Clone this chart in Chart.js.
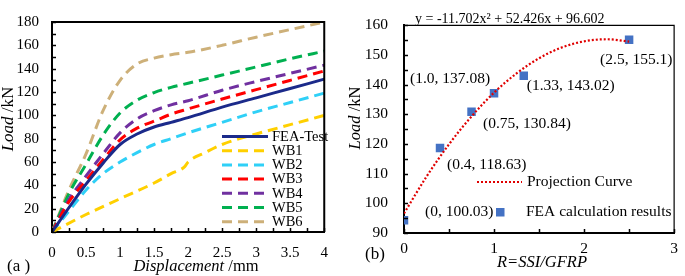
<!DOCTYPE html>
<html>
<head>
<meta charset="utf-8">
<script src="https://cdn.jsdelivr.net/npm/chart.js@4"></script>
<style>
  html, body { margin: 0; padding: 0; background: #fff; }
  #wrap { position: relative; width: 685px; height: 276px; }
  #c1 { position: absolute; left: 0; top: 0; }
  #c2 { position: absolute; left: 340px; top: 0; }
</style>
</head>
<body>
<div id="wrap">
  <canvas id="c1" width="340" height="276"></canvas>
  <canvas id="c2" width="345" height="276"></canvas>
</div>
<script>
// ---- panel (a): load vs displacement ----
var dispX  = [0, 0.25, 0.5, 0.75, 1, 1.25, 1.5, 1.75, 2, 2.5, 3, 3.5, 4];
var feaTest = [0, 21, 41, 59, 75, 84, 90, 94, 98, 107, 115, 123, 131];
var wb2 = [0, 18, 36, 50, 60, 68, 75, 80, 85, 94, 103, 111, 119];
var wb3 = [0, 26, 44, 62, 79, 89, 95, 101, 105.5, 114, 122, 130, 138];
var wb4 = [0, 28, 48, 67, 85, 97, 104, 109, 112.5, 121.5, 129, 136, 143];
var wb5 = [0, 33, 58, 83, 102, 113, 119.5, 124, 127.5, 134.5, 141.5, 148.5, 155];
var wb6 = [0, 36, 67, 104, 130, 144, 149, 152, 154, 160, 167, 173.5, 180];
// WB1 has its own x points (kink near 2 mm)
var wb1X = [0, 0.5, 1, 1.5, 1.75, 1.95, 2.0, 2.25, 2.5, 3, 3.5, 4];
var wb1  = [0, 15, 28.5, 42, 50, 56, 60, 68, 75, 84, 92, 100];

var seriesNames = ['FEA-Test', 'WB1', 'WB2', 'WB3', 'WB4', 'WB5', 'WB6'];

// ---- panel (b): load vs R ----
var rVals    = [0, 0.4, 0.75, 1.0, 1.33, 2.5];
var rLoads   = [94.3, 118.63, 130.84, 137.08, 143.02, 155.1];
var rLabels  = ['(0, 100.03)', '(0.4, 118.63)', '(0.75, 130.84)', '(1.0, 137.08)', '(1.33, 143.02)', '(2.5, 155.1)'];
var curveX   = [0, 0.25, 0.5, 0.75, 1, 1.25, 1.5, 1.75, 2, 2.25, 2.5];
var curveY   = [96.6, 109, 119.9, 129.3, 137.3, 143.8, 148.9, 152.5, 154.6, 155.3, 154.5];
var equation = 'y = -11.702x\u00B2 + 52.426x + 96.602';

var SERIF = "'Liberation Serif', 'Times New Roman', serif";

function pts(xs, ys) {
  return xs.map(function (x, i) { return { x: x, y: ys[i] }; });
}
function num(v) { return String(Math.round(v * 100) / 100); }

// small helper for mixed italic/normal text
function mixedText(ctx, parts, size) {
  var total = 0;
  parts.forEach(function (p) {
    ctx.font = (p[1] ? 'italic ' : '') + size + 'px ' + SERIF;
    total += ctx.measureText(p[0]).width;
  });
  return total;
}
function drawMixed(ctx, parts, size, cx, cy, rotate) {
  ctx.save();
  ctx.translate(cx, cy);
  if (rotate) ctx.rotate(-Math.PI / 2);
  var w = mixedText(ctx, parts, size);
  var x = -w / 2;
  ctx.fillStyle = '#000';
  ctx.textBaseline = 'middle';
  ctx.textAlign = 'left';
  parts.forEach(function (p) {
    ctx.font = (p[1] ? 'italic ' : '') + size + 'px ' + SERIF;
    ctx.fillText(p[0], x, 0);
    x += ctx.measureText(p[0]).width;
  });
  ctx.restore();
}

var colors = ['#1b2a8a', '#ffd000', '#2fd0f7', '#ff0000', '#7030a0', '#00b050', '#cdb079'];

var frameA = {
  id: 'frameA',
  afterDraw: function (chart) {
    var ctx = chart.ctx, a = chart.chartArea;
    var xs = chart.scales.x, ys = chart.scales.y;
    ctx.save();
    ctx.strokeStyle = '#000';
    ctx.lineWidth = 2;
    ctx.beginPath();
    ctx.moveTo(a.left, a.top); ctx.lineTo(a.right, a.top); ctx.lineTo(a.right, a.bottom);
    ctx.stroke();
    ctx.lineWidth = 1.5;
    ctx.beginPath();
    xs.ticks.forEach(function (t) {
      var p = Math.round(xs.getPixelForValue(t.value)) + 0.5;
      ctx.moveTo(p, a.bottom); ctx.lineTo(p, a.bottom - 4);
    });
    ys.ticks.forEach(function (t) {
      var p = Math.round(ys.getPixelForValue(t.value)) + 0.5;
      ctx.moveTo(a.left, p); ctx.lineTo(a.left + 4, p);
    });
    ctx.stroke();

    // legend inside plot
    var lx0 = 222, lx1 = 268, ly = 136.5, step = 14.2;
    chart.data.datasets.forEach(function (ds, i) {
      var y = ly + i * step;
      ctx.strokeStyle = ds.borderColor;
      ctx.lineWidth = 3;
      ctx.setLineDash(ds.borderDash || []);
      ctx.beginPath(); ctx.moveTo(lx0, y); ctx.lineTo(lx1, y); ctx.stroke();
      ctx.setLineDash([]);
      ctx.fillStyle = '#000';
      ctx.font = '14.5px ' + SERIF;
      ctx.textBaseline = 'middle';
      ctx.textAlign = 'left';
      ctx.fillText(ds.label, 272, y + 0.5);
    });

    drawMixed(ctx, [['Load', true], [' /kN', false]], 17, 9, 119, true);
    drawMixed(ctx, [['Displacement', true], [' /mm', false]], 16.5, 196, 267, false);
    ctx.font = '17px ' + SERIF;
    ctx.fillStyle = '#000';
    ctx.textAlign = 'left';
    ctx.textBaseline = 'middle';
    ctx.fillText('(a )', 7, 267);
    ctx.restore();
  }
};

var setsA = [feaTest, wb1, wb2, wb3, wb4, wb5, wb6].map(function (ys, i) {
  return {
    label: seriesNames[i],
    data: i === 1 ? pts(wb1X, wb1) : pts(dispX, ys),
    borderColor: colors[i],
    backgroundColor: colors[i],
    borderWidth: 3,
    borderDash: i === 0 ? [] : [10, 6],
    pointRadius: 0,
    cubicInterpolationMode: 'monotone',
    fill: false
  };
});

new Chart(document.getElementById('c1').getContext('2d'), {
  type: 'line',
  data: { datasets: setsA },
  options: {
    responsive: false,
    animation: false,
    devicePixelRatio: 1,
    layout: { padding: { left: 0, top: 6, right: 10, bottom: 0 } },
    plugins: { legend: { display: false }, tooltip: { enabled: false } },
    scales: {
      x: {
        type: 'linear', min: 0, max: 4,
        afterFit: function (s) { s.height = 44; },
        grid: { display: false, drawTicks: false },
        border: { display: true, color: '#000', width: 2 },
        ticks: {
          stepSize: 0.25, autoSkip: false, maxRotation: 0, padding: 12,
          color: '#000', font: { family: SERIF, size: 15 },
          callback: function (v) { return Math.round(v * 4) % 2 === 0 ? num(v) : ''; }
        }
      },
      y: {
        min: 0, max: 180,
        afterFit: function (s) { s.width = 52; },
        grid: { display: false, drawTicks: false },
        border: { display: true, color: '#000', width: 2 },
        ticks: {
          stepSize: 10, autoSkip: false, padding: 13,
          color: '#000', font: { family: SERIF, size: 15 },
          callback: function (v) { return v % 20 === 0 ? num(v) : ''; }
        }
      }
    }
  },
  plugins: [frameA]
});

// label offsets (px) relative to each point, panel (b)
var labelOffsets = [[21, -8], [7, 16.5], [11.5, 12], [-84, -14], [3, 10.5], [-29, 20]];

var frameB = {
  id: 'frameB',
  afterDraw: function (chart) {
    var ctx = chart.ctx, a = chart.chartArea;
    var xs = chart.scales.x, ys = chart.scales.y;
    ctx.save();
    ctx.strokeStyle = '#000';
    ctx.lineWidth = 1.2;
    ctx.beginPath();
    ctx.moveTo(a.left, a.top); ctx.lineTo(a.right, a.top); ctx.lineTo(a.right, a.bottom);
    ctx.stroke();
    ctx.lineWidth = 1.5;
    ctx.beginPath();
    xs.ticks.forEach(function (t) {
      var p = Math.round(xs.getPixelForValue(t.value)) + 0.5;
      ctx.moveTo(p, a.bottom); ctx.lineTo(p, a.bottom - 4);
    });
    ys.ticks.forEach(function (t) {
      var p = Math.round(ys.getPixelForValue(t.value)) + 0.5;
      ctx.moveTo(a.left, p); ctx.lineTo(a.left + 4, p);
    });
    ctx.stroke();

    // point labels
    ctx.fillStyle = '#000';
    ctx.font = '15.5px ' + SERIF;
    ctx.textAlign = 'left';
    ctx.textBaseline = 'middle';
    rVals.forEach(function (r, i) {
      var px = xs.getPixelForValue(r), py = ys.getPixelForValue(rLoads[i]);
      ctx.fillText(rLabels[i], px + labelOffsets[i][0], py + labelOffsets[i][1]);
    });

    // trendline equation
    ctx.font = '14px ' + SERIF;
    ctx.fillText(equation, 75, 19);

    // legend
    var ds0 = chart.data.datasets[0], ds1 = chart.data.datasets[1];
    ctx.strokeStyle = ds0.borderColor;
    ctx.lineWidth = 2.2;
    ctx.setLineDash(ds0.borderDash);
    ctx.beginPath(); ctx.moveTo(137, 182); ctx.lineTo(182, 182); ctx.stroke();
    ctx.setLineDash([]);
    ctx.fillStyle = ds1.backgroundColor;
    ctx.fillRect(156, 208, 8.5, 8.5);
    ctx.fillStyle = '#000';
    ctx.font = '15.5px ' + SERIF;
    ctx.fillText(ds0.label, 187, 182);
    ctx.fillText(ds1.label, 186, 212);

    drawMixed(ctx, [['Load', true], [' /kN', false]], 16.5, 16, 118, true);
    drawMixed(ctx, [['R=SSI/GFRP', true]], 16.5, 202, 263, false);
    ctx.font = '17px ' + SERIF;
    ctx.fillStyle = '#000';
    ctx.textAlign = 'left';
    ctx.fillText('(b)', 25, 255);
    ctx.restore();
  }
};

new Chart(document.getElementById('c2').getContext('2d'), {
  type: 'scatter',
  data: {
    datasets: [{
      type: 'line',
      label: 'Projection Curve',
      data: pts(curveX, curveY),
      borderColor: '#e00000',
      borderWidth: 2.2,
      borderDash: [2, 2],
      pointRadius: 0,
      cubicInterpolationMode: 'monotone',
      fill: false
    }, {
      label: 'FEA calculation results',
      data: pts(rVals, rLoads),
      pointStyle: 'rect',
      pointRadius: 6,
      backgroundColor: '#4472c4',
      borderColor: '#4472c4',
      borderWidth: 0
    }]
  },
  options: {
    responsive: false,
    animation: false,
    devicePixelRatio: 1,
    layout: { padding: { left: 0, top: 6.5, right: 3, bottom: 0 } },
    plugins: { legend: { display: false }, tooltip: { enabled: false } },
    scales: {
      x: {
        type: 'linear', min: 0, max: 3,
        afterFit: function (s) { s.height = 43; },
        grid: { display: false, drawTicks: false },
        border: { display: true, color: '#000', width: 2 },
        ticks: {
          stepSize: 0.5, autoSkip: false, maxRotation: 0, padding: 7,
          color: '#000', font: { family: SERIF, size: 15.5 },
          callback: function (v) { return Math.round(v * 2) % 2 === 0 ? num(v) : ''; }
        }
      },
      y: {
        min: 90, max: 160,
        afterFit: function (s) { s.width = 64; },
        grid: { display: false, drawTicks: false },
        border: { display: true, color: '#000', width: 2 },
        ticks: {
          stepSize: 5, autoSkip: false, padding: 16,
          color: '#000', font: { family: SERIF, size: 15.5 },
          callback: function (v) { return v % 10 === 0 ? num(v) : ''; }
        }
      }
    }
  },
  plugins: [frameB]
});
</script>
</body>
</html>
